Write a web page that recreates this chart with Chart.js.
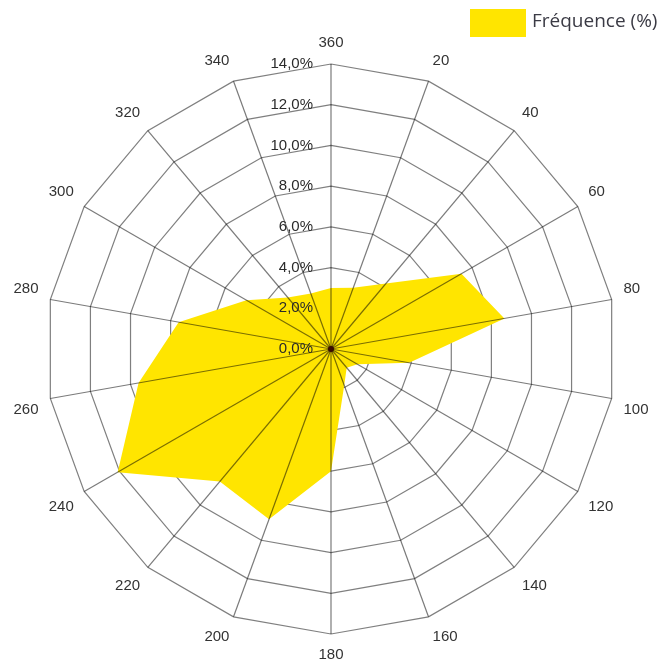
<!DOCTYPE html>
<html>
<head>
<meta charset="utf-8">
<script src="https://cdn.jsdelivr.net/npm/chart.js@4.4.1/dist/chart.umd.min.js"></script>
<style>
  html, body { margin: 0; padding: 0; background: #fff; }
  #wrap { width: 662px; height: 664px; position: relative; }
</style>
</head>
<body>
<div id="wrap"><canvas id="windRose"></canvas></div>
<script>
// wind directions as printed round the rose
const directions = ['360', '20', '40', '60', '80', '100', '120', '140', '160',
                    '180', '200', '220', '240', '260', '280', '300', '320', '340'];
// frequency per direction (%)
const frequency = [3.0, 3.2, 4.2, 7.4, 8.65, 3.9, 1.5, 1.2, 1.9,
                   6.0, 8.9, 8.5, 12.1, 9.6, 7.6, 4.8, 3.3, 2.9];
// radial axis
const tickValues = [0, 2, 4, 6, 8, 10, 12, 14];
const tickLabels = ['0,0%', '2,0%', '4,0%', '6,0%', '8,0%', '10,0%', '12,0%', '14,0%'];
const seriesName = 'Fréquence (%)';

const yellow = '#FFE500';

// spokes are drawn over the filled area, like in the original
const spokesOnTop = {
  id: 'spokesOnTop',
  afterDatasetsDraw(chart) {
    const r = chart.scales.r;
    const ctx = chart.ctx;
    const outer = r.getDistanceFromCenterForValue(r.max);
    ctx.save();
    ctx.strokeStyle = 'rgba(0,0,0,0.52)';
    ctx.lineWidth = 1.2;
    for (let i = 0; i < directions.length; i++) {
      const p = r.getPointPosition(i, outer);
      ctx.beginPath();
      ctx.moveTo(r.xCenter, r.yCenter);
      ctx.lineTo(p.x, p.y);
      ctx.stroke();
    }
    // dark hub where the spokes meet
    ctx.fillStyle = '#3a0c00';
    ctx.beginPath();
    ctx.arc(r.xCenter, r.yCenter, 3, 0, Math.PI * 2);
    ctx.fill();
    // tick labels sit left of the north spoke
    ctx.fillStyle = '#2a2a2a';
    ctx.font = '15px "Liberation Sans", Arial, sans-serif';
    ctx.textAlign = 'right';
    ctx.textBaseline = 'middle';
    tickValues.forEach((v, i) => {
      const y = r.yCenter - r.getDistanceFromCenterForValue(v);
      ctx.fillText(tickLabels[i], r.xCenter - 18, y);
    });
    ctx.restore();
  }
};

// legend in the top right corner, outside the layout
const cornerLegend = {
  id: 'cornerLegend',
  afterDraw(chart) {
    const ctx = chart.ctx;
    ctx.save();
    ctx.fillStyle = yellow;
    ctx.fillRect(470, 9, 56, 28);
    ctx.fillStyle = '#3b3b45';
    ctx.font = '19px "Open Sans", sans-serif';
    ctx.textAlign = 'left';
    ctx.textBaseline = 'middle';
    ctx.fillText(chart.data.datasets[0].label, 532, 22);
    ctx.restore();
  }
};

const ctx = document.getElementById('windRose').getContext('2d');
const windRose = new Chart(ctx, {
  type: 'radar',
  data: {
    labels: directions,
    datasets: [{
      label: seriesName,
      data: frequency,
      fill: true,
      backgroundColor: yellow,
      borderWidth: 0,
      pointRadius: 0,
      pointHoverRadius: 0
    }]
  },
  options: {
    responsive: true,
    maintainAspectRatio: false,
    animation: false,
    layout: {
      padding: { left: 12, right: 12, top: 34, bottom: 0 }
    },
    plugins: {
      legend: { display: false },
      tooltip: { enabled: false }
    },
    scales: {
      r: {
        min: 0,
        max: 14,
        ticks: { stepSize: 2, display: false },
        grid: { color: 'rgba(0,0,0,0.5)', lineWidth: 1.2 },
        angleLines: { display: false },
        pointLabels: {
          padding: 12,
          color: '#333',
          font: { family: '"Liberation Sans", Arial, sans-serif', size: 15 }
        }
      }
    }
  },
  plugins: [spokesOnTop, cornerLegend]
});
</script>
</body>
</html>
